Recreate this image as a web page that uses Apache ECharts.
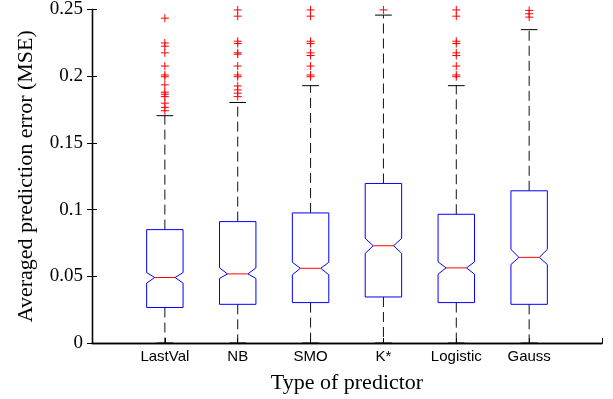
<!DOCTYPE html>
<html>
<head>
<meta charset="utf-8">
<script src="https://cdn.jsdelivr.net/npm/echarts@6/dist/echarts.min.js"></script>
<style>html,body{margin:0;padding:0;background:#fff}#main{width:613px;height:399px}</style>
</head>
<body>
<div id="main"></div>
<script>
var predictors = ['LastVal', 'NB', 'SMO', 'K*', 'Logistic', 'Gauss'];
// box statistics (MSE)
var whiskerLow = [0, 0, 0, 0, 0, 0];
var q1 = [0.0266, 0.0290, 0.0303, 0.0345, 0.0303, 0.0290];
var notchLow = [0.0449, 0.0484, 0.0511, 0.0672, 0.0516, 0.0588];
var median = [0.0491, 0.0518, 0.0560, 0.0729, 0.0563, 0.0642];
var notchHigh = [0.0528, 0.0563, 0.0605, 0.0784, 0.0608, 0.0702];
var q3 = [0.0850, 0.0910, 0.0975, 0.1196, 0.0965, 0.1141];
var whiskerHigh = [0.1704, 0.1803, 0.1929, 0.2458, 0.1929, 0.2349];
var outliers = [
  [0.2435, 0.2249, 0.2225, 0.2175, 0.2076, 0.2009, 0.1996, 0.1935, 0.1880, 0.1865, 0.1847, 0.1798, 0.1766, 0.1741],
  [0.2497, 0.2450, 0.2262, 0.2245, 0.2175, 0.2165, 0.2076, 0.2009, 0.1996, 0.1927, 0.1897, 0.1873, 0.1847],
  [0.2497, 0.2450, 0.2262, 0.2245, 0.2175, 0.2155, 0.2076, 0.2009, 0.1996],
  [0.2497],
  [0.2497, 0.2450, 0.2262, 0.2245, 0.2175, 0.2155, 0.2076, 0.2009, 0.1996],
  [0.2493, 0.2468, 0.2443]
];

var boxData = predictors.map(function (p, i) {
  return [i + 1, whiskerLow[i], q1[i], notchLow[i], median[i], notchHigh[i], q3[i], whiskerHigh[i]];
});
var outlierData = [];
outliers.forEach(function (list, i) {
  list.forEach(function (v) { outlierData.push([i + 1, v]); });
});

function renderBox(params, api) {
  var x = api.value(0);
  var slot = api.size([1, 0])[0];
  var hw = slot * 0.25, nw = slot * 0.14, cw = slot * 0.115;
  function pt(dx, k) {
    var p = api.coord([x, api.value(k)]);
    return [p[0] + dx, p[1]];
  }
  var dash = { stroke: '#111', lineWidth: 1, lineDash: [10, 5] };
  var black = { stroke: '#000', lineWidth: 1 };
  function line(a, b, style) {
    return { type: 'line', shape: { x1: a[0], y1: a[1], x2: b[0], y2: b[1] }, style: style };
  }
  return {
    type: 'group',
    children: [
      line(pt(0, 6), pt(0, 7), dash),
      line(pt(0, 2), pt(0, 1), dash),
      line(pt(-cw, 7), pt(cw, 7), black),
      line(pt(-cw, 1), pt(cw, 1), black),
      {
        type: 'polygon',
        shape: { points: [pt(-hw, 2), pt(-hw, 3), pt(-nw, 4), pt(-hw, 5), pt(-hw, 6),
                          pt(hw, 6), pt(hw, 5), pt(nw, 4), pt(hw, 3), pt(hw, 2)] },
        style: { fill: 'none', stroke: '#0000ff', lineWidth: 1 }
      },
      line(pt(-nw, 4), pt(nw, 4), { stroke: '#ff0000', lineWidth: 1 })
    ]
  };
}

var chart = echarts.init(document.getElementById('main'));
var serif = 'Liberation Serif';
chart.setOption({
  animation: false,
  grid: { left: 92, right: 11, top: 9, bottom: 54 },
  xAxis: [{
    type: 'value', min: 0, max: 7, interval: 1,
    name: 'Type of predictor', nameLocation: 'middle', nameGap: 29,
    nameTextStyle: { fontFamily: serif, fontSize: 22, color: '#000' },
    axisLine: { lineStyle: { color: '#000', width: 1.3 } },
    axisTick: { inside: true, length: 5, lineStyle: { color: '#000' } },
    axisLabel: {
      margin: 6, fontFamily: 'Liberation Sans', fontSize: 15, color: '#000',
      formatter: function (v) { return predictors[v - 1] || ''; }
    },
    splitLine: { show: false }
  }, {
    type: 'value', min: 0, max: 7, position: 'top',
    axisLine: { lineStyle: { color: '#000', width: 1.3 } },
    axisTick: { show: false }, axisLabel: { show: false }, splitLine: { show: false }
  }],
  yAxis: [{
    type: 'value', min: 0, max: 0.25, interval: 0.05,
    name: 'Averaged prediction error (MSE)', nameLocation: 'middle', nameGap: 55,
    nameTextStyle: { fontFamily: serif, fontSize: 22, color: '#000' },
    axisLine: { show: true, lineStyle: { color: '#000', width: 1.3 } },
    axisTick: { show: true, inside: true, length: 5, lineStyle: { color: '#000' } },
    axisLabel: {
      margin: 9, fontFamily: serif, fontSize: 19, color: '#000',
      formatter: function (v) { return String(+v.toFixed(2)); }
    },
    splitLine: { show: false }
  }, {
    type: 'value', min: 0, max: 0.25, interval: 0.05, position: 'right',
    axisLine: { show: true, lineStyle: { color: '#000', width: 1.3 } },
    axisTick: { show: true, inside: true, length: 5, lineStyle: { color: '#000' } },
    axisLabel: { show: false }, splitLine: { show: false }
  }],
  series: [{
    type: 'custom',
    renderItem: renderBox,
    encode: { x: 0, y: [1, 2, 3, 4, 5, 6, 7] },
    data: boxData,
    clip: false
  }, {
    type: 'scatter',
    symbol: 'path://M0,4H8M4,0V8',
    symbolSize: 8,
    itemStyle: { color: 'transparent', borderColor: '#ff0000', borderWidth: 1, opacity: 1 },
    data: outlierData,
    clip: false,
    silent: true
  }]
});
</script>
</body>
</html>
